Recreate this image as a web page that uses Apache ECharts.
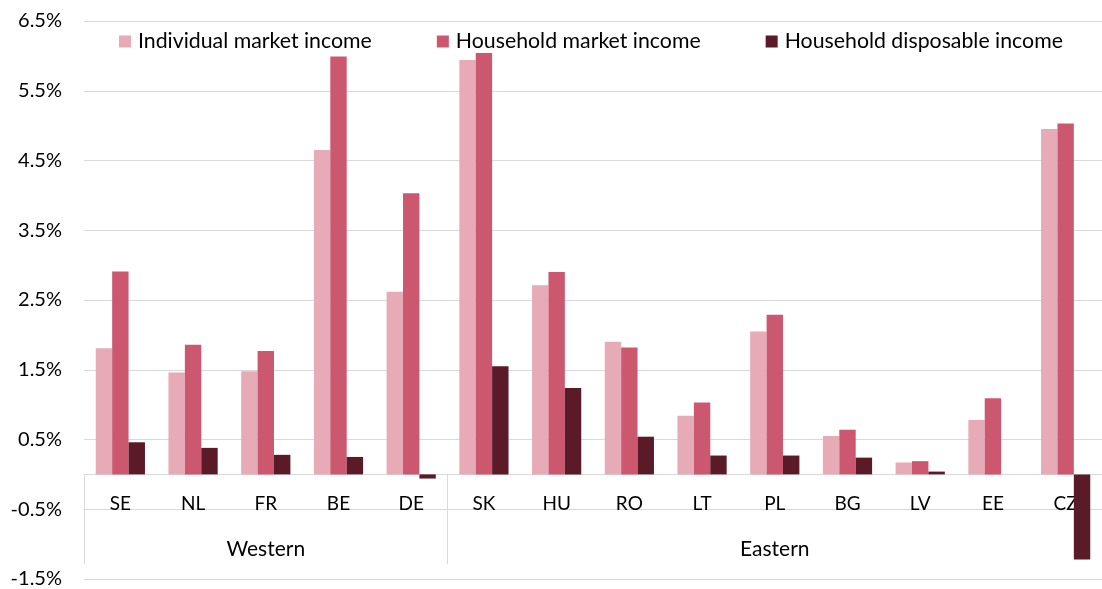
<!DOCTYPE html>
<html>
<head>
<meta charset="utf-8">
<title>Market and disposable income</title>
<script src="https://cdn.jsdelivr.net/npm/echarts@6/dist/echarts.min.js"></script>
<style>
    html, body { margin: 0; padding: 0; background: #fff; }
    #chart { width: 1102px; height: 589px; }
</style>
</head>
<body>
<div id="chart"></div>
<script>
// categories and groups
const countries = ['SE', 'NL', 'FR', 'BE', 'DE', 'SK', 'HU', 'RO', 'LT', 'PL', 'BG', 'LV', 'EE', 'CZ'];
const groupNames = ['Western', 'Eastern'];
const groupSizes = [5, 9];

// series values (%)
const individualMarket = [1.81, 1.46, 1.48, 4.65, 2.62, 5.94, 2.71, 1.90, 0.84, 2.05, 0.55, 0.17, 0.78, 4.95];
const householdMarket = [2.91, 1.86, 1.77, 5.99, 4.03, 6.04, 2.90, 1.82, 1.03, 2.29, 0.64, 0.19, 1.09, 5.03];
const householdDisposable = [0.46, 0.38, 0.28, 0.25, -0.06, 1.55, 1.24, 0.54, 0.27, 0.27, 0.24, 0.04, null, -1.22];

// value axis ticks
const yMin = -1.5;
const yMax = 6.5;
const yStep = 1;

const seriesNames = ['Individual market income', 'Household market income', 'Household disposable income'];
const seriesColors = ['#e6abb6', '#cc5870', '#5a1a28'];

window.addEventListener('DOMContentLoaded', function() {
    initChart();
});

function initChart() {
    const chart = echarts.init(document.getElementById('chart'));
    const font = 'Lato, "Open Sans", sans-serif';
    const gridColor = '#d9d9d9';

    // group label sits in the middle category of its group, separators at group starts
    const groupLabels = countries.map(() => '');
    const groupStarts = [];
    let start = 0;
    groupNames.forEach((name, i) => {
        groupStarts.push(start);
        groupLabels[start + Math.floor((groupSizes[i] - 1) / 2)] = name;
        start += groupSizes[i];
    });

    // offset that lifts the category axes from the grid bottom to the zero line
    const plotHeight = 560;
    const zeroOffset = -plotHeight * (0 - yMin) / (yMax - yMin);

    const option = {
        animation: false,
        textStyle: { fontFamily: font },
        legend: {
            left: 119,
            top: 31,
            padding: 0,
            itemGap: 65,
            itemWidth: 12,
            itemHeight: 12,
            icon: 'rect',
            textStyle: { fontSize: 21.3, color: '#000', fontFamily: font, padding: [0, 0, 0, 2] },
            data: seriesNames
        },
        grid: {
            left: 84,
            top: 21,
            width: 1025,
            height: plotHeight,
            containLabel: false
        },
        xAxis: [
            {
                type: 'category',
                data: countries,
                position: 'bottom',
                offset: zeroOffset,
                axisLine: { show: true, onZero: false, lineStyle: { color: gridColor, width: 1 } },
                axisTick: { show: false },
                axisLabel: { fontSize: 19, color: '#000', margin: 20, interval: 0 }
            },
            {
                type: 'category',
                data: groupLabels,
                position: 'bottom',
                offset: zeroOffset,
                axisLine: { show: false, onZero: false },
                axisTick: {
                    show: true,
                    length: 90,
                    interval: function(index) {
                        return groupStarts.indexOf(index) >= 0;
                    },
                    lineStyle: { color: gridColor, width: 1 }
                },
                axisLabel: { fontSize: 21, color: '#000', margin: 65, interval: 0 }
            }
        ],
        yAxis: {
            type: 'value',
            min: yMin,
            max: yMax,
            interval: yStep,
            axisLine: { show: false },
            axisTick: { show: false },
            splitLine: { lineStyle: { color: gridColor, width: 1 } },
            axisLabel: {
                fontSize: 20,
                color: '#000',
                margin: 22,
                formatter: function(v) {
                    return v.toFixed(1) + '%';
                }
            }
        },
        series: [individualMarket, householdMarket, householdDisposable].map((values, i) => ({
            name: seriesNames[i],
            type: 'bar',
            xAxisIndex: 0,
            data: values,
            barWidth: 16.4,
            barGap: '0%',
            itemStyle: { color: seriesColors[i] }
        }))
    };
    chart.setOption(option);
}
</script>
</body>
</html>
